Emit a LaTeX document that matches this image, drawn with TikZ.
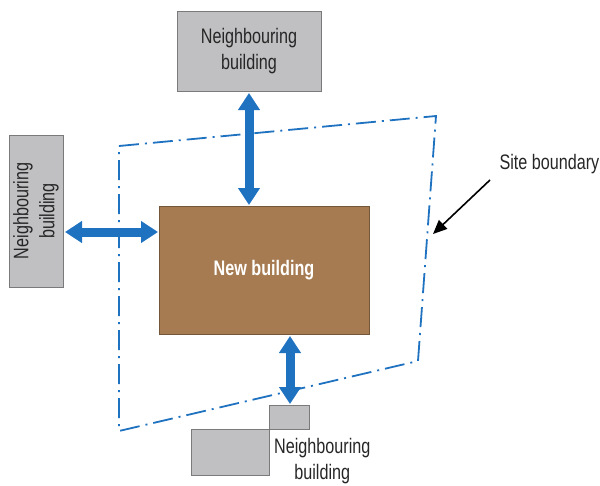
\documentclass[tikz,border=0pt]{standalone}
\usepackage{fontspec}
\setmainfont{Liberation Sans}[FakeStretch=0.77]
\usetikzlibrary{arrows.meta}
\definecolor{bgrey}{HTML}{C0C0C2}
\definecolor{bedge}{HTML}{7A7A7A}
\definecolor{brown}{HTML}{A67B52}
\definecolor{bblue}{HTML}{1F72C0}
\begin{document}
\begin{tikzpicture}[x=1pt,y=-1pt,
  nb/.style={draw=bedge,fill=bgrey,line width=1pt,inner sep=0pt},
  lbl/.style={font=\fontsize{21}{26}\selectfont,align=center,text=black!85},
  fat/.style={draw=bblue,line width=9pt,{Triangle[length=17pt,width=21pt]}-{Triangle[length=17pt,width=21pt]},shorten <=0pt,shorten >=0pt},
  site/.style={draw=bblue,line width=1.8pt,dash pattern=on 20pt off 6pt on 2pt off 6pt}]
\useasboundingbox (0,0) rectangle (600,485);
% site boundary
\coordinate (s1) at (119,146);
\coordinate (s2) at (436,116);
\coordinate (s3) at (418,361);
\coordinate (s4) at (119,431);
\draw[site] (s1) -- (s2) -- (s3) -- (s4) -- cycle;
% buildings
\node[nb,minimum width=144pt,minimum height=80pt] (top) at (249,51) {};
\node[lbl] (toplbl) at (top) {Neighbouring\\building};
\node[nb,minimum width=54pt,minimum height=152pt] (left) at (36,211) {};
\node[lbl,rotate=90] (leftlbl) at (left) {Neighbouring\\building};
\node[draw=brown!70!black,fill=brown,line width=1pt,minimum width=210pt,minimum height=128pt,inner sep=0pt] (new) at (264,270) {};
\node[font=\fontsize{21}{24}\selectfont\bfseries,text=white] (newlbl) at (new) {New building};
\node[nb,minimum width=40pt,minimum height=24pt] (bs) at (289,417) {};
\node[nb,minimum width=78pt,minimum height=46pt] (bb) at (230,452) {};
\node[lbl,anchor=west,inner sep=1pt] (bl) at (273,461) {Neighbouring\\building};
% arrows
\coordinate (a1) at (249,93);
\coordinate (a2) at (249,205);
\draw[fat] (a1) -- (a2);
\coordinate (b1) at (65,232);
\coordinate (b2) at (158,232);
\draw[fat] (b1) -- (b2);
\coordinate (c1) at (290,336);
\coordinate (c2) at (290,404);
\draw[fat] (c1) -- (c2);
% site label
\node[lbl,anchor=west] (sl) at (496,164) {Site boundary};
\coordinate (sp) at (433,234);
\draw[line width=1.6pt,-{Triangle[length=14pt,width=12pt]}] (490,180) -- (sp);
\end{tikzpicture}
\end{document}
